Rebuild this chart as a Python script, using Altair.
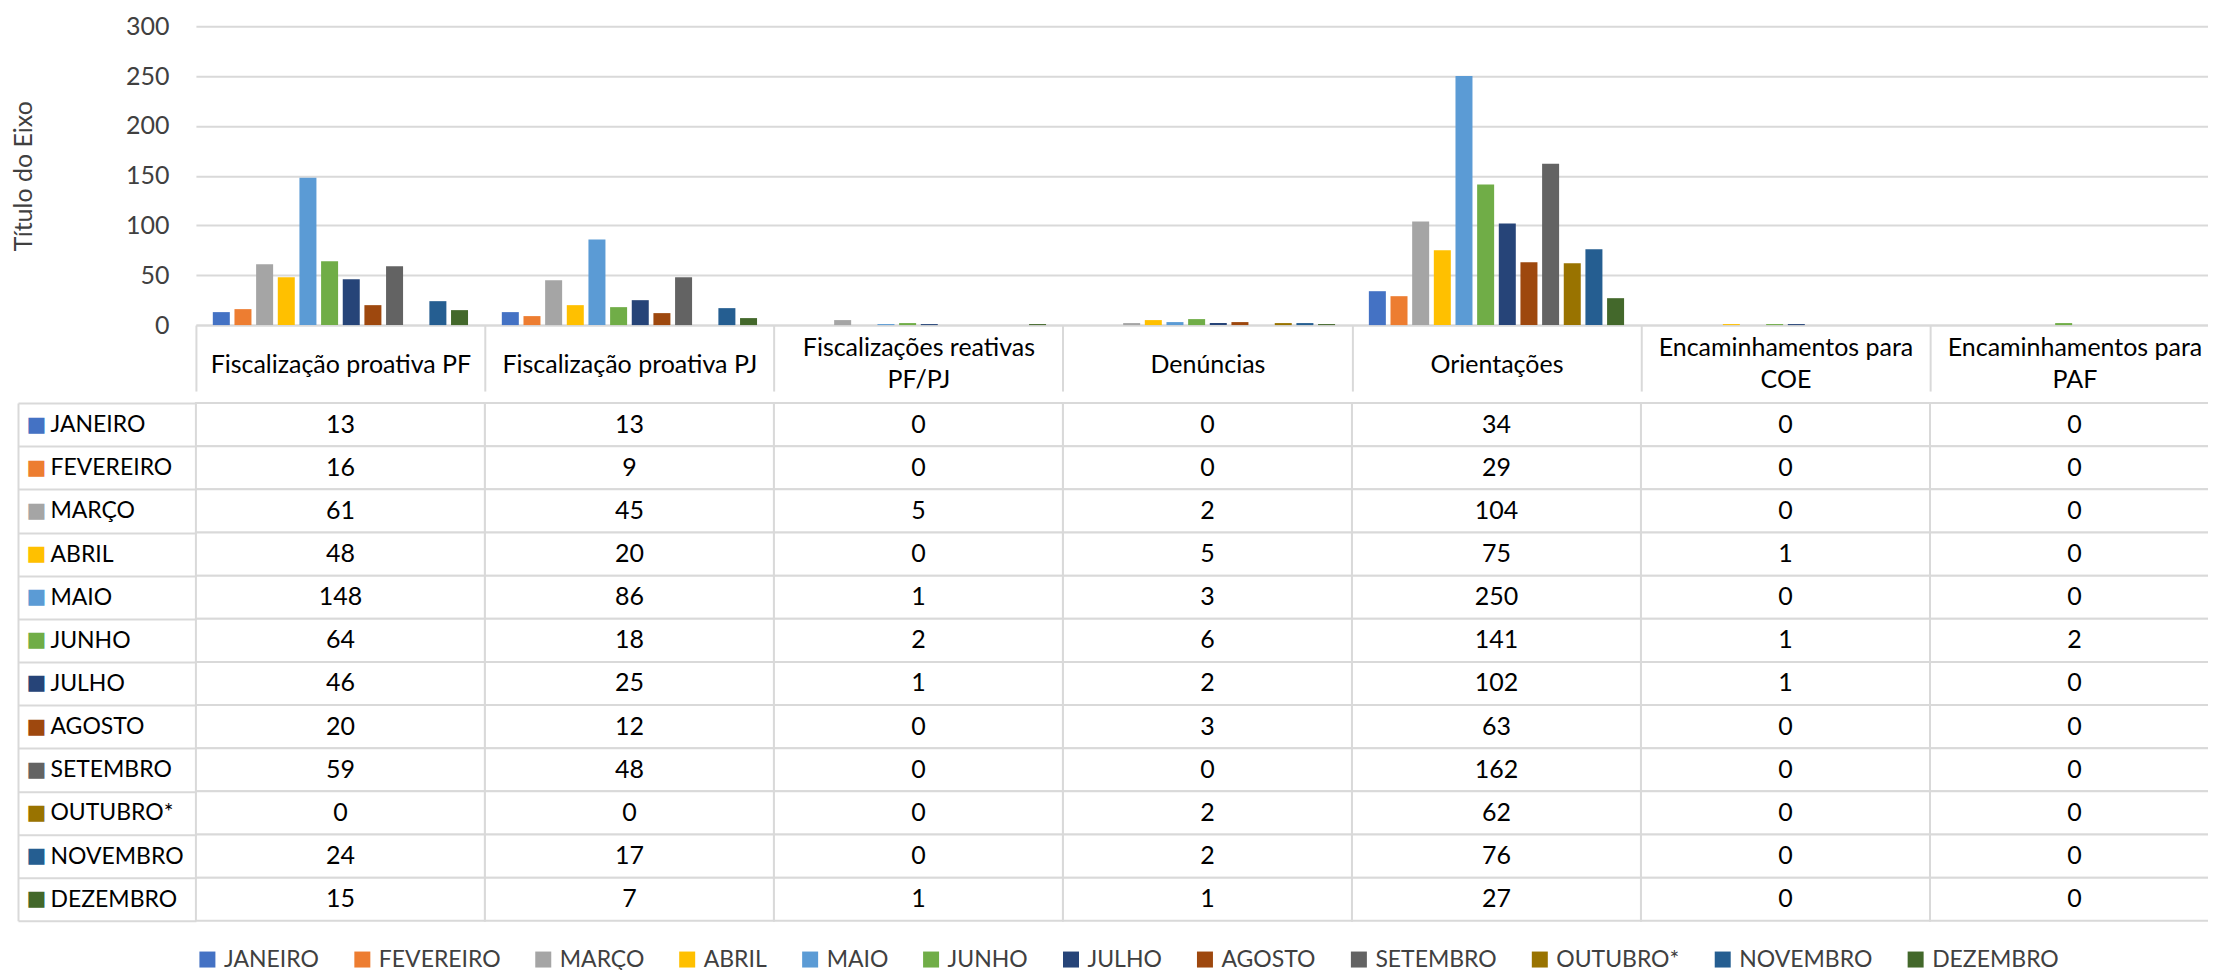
import altair as alt
import pandas as pd

FONT = "Lato"
GRID = "#d9d9d9"

categories = [
    "Fiscalização proativa PF",
    "Fiscalização proativa PJ",
    "Fiscalizações reativas PF/PJ",
    "Denúncias",
    "Orientações",
    "Encaminhamentos para COE",
    "Encaminhamentos para PAF",
]
header_lines = [
    ["Fiscalização proativa PF"],
    ["Fiscalização proativa PJ"],
    ["Fiscalizações reativas", "PF/PJ"],
    ["Denúncias"],
    ["Orientações"],
    ["Encaminhamentos para", "COE"],
    ["Encaminhamentos para", "PAF"],
]
months = ["JANEIRO", "FEVEREIRO", "MARÇO", "ABRIL", "MAIO", "JUNHO", "JULHO",
          "AGOSTO", "SETEMBRO", "OUTUBRO*", "NOVEMBRO", "DEZEMBRO"]
colors = ["#4472C4", "#ED7D31", "#A5A5A5", "#FFC000", "#5B9BD5", "#70AD47",
          "#264478", "#9E480E", "#636363", "#997300", "#255E91", "#43682B"]

janeiro = [13, 13, 0, 0, 34, 0, 0]
fevereiro = [16, 9, 0, 0, 29, 0, 0]
marco = [61, 45, 5, 2, 104, 0, 0]
abril = [48, 20, 0, 5, 75, 1, 0]
maio = [148, 86, 1, 3, 250, 0, 0]
junho = [64, 18, 2, 6, 141, 1, 2]
julho = [46, 25, 1, 2, 102, 1, 0]
agosto = [20, 12, 0, 3, 63, 0, 0]
setembro = [59, 48, 0, 0, 162, 0, 0]
outubro = [0, 0, 0, 2, 62, 0, 0]
novembro = [24, 17, 0, 2, 76, 0, 0]
dezembro = [15, 7, 1, 1, 27, 0, 0]
series = [janeiro, fevereiro, marco, abril, maio, junho, julho, agosto,
          setembro, outubro, novembro, dezembro]

rows = []
for m, vals in zip(months, series):
    for c, v in zip(categories, vals):
        rows.append({"month": m, "category": c, "value": v})
df = pd.DataFrame(rows)

# header label expression (multi-line headers)
parts = []
multi = []
for c, lines in zip(categories, header_lines):
    if len(lines) > 1:
        arr = "[" + ", ".join("'" + l + "'" for l in lines) + "]"
        parts.append(f"datum.value == '{c}' ? {arr}")
        multi.append(f"datum.value == '{c}'")
header_expr = " : ".join(parts) + " : datum.label"
multi_test = " || ".join(multi)

color_expr = " : ".join(f"datum.value == '{m}' ? '{c}'" for m, c in zip(months, colors)) + " : 'black'"

PLOT_W = 2024
PLOT_H = 299

x_top = alt.X(
    "category:N", sort=categories,
    scale=alt.Scale(paddingInner=0, paddingOuter=0),
    axis=alt.Axis(
        title=None, orient="bottom", labelAngle=0, grid=False,
        domainColor=GRID, domainWidth=2,
        ticks=True, tickBand="extent", tickSize=66, tickColor=GRID, tickWidth=2,
        labelExpr=header_expr, labelFont=FONT, labelFontSize=25, labelColor="#000000",
        labelPadding=-27,
        labelBaseline={"condition": {"test": multi_test, "value": "line-bottom"}, "value": "middle"},
        labelLineHeight=32, labelLimit=400,
    ),
)

top = alt.Chart(df).mark_bar().encode(
    x=x_top,
    xOffset=alt.XOffset("month:N", sort=months,
                        scale=alt.Scale(paddingInner=0.215, paddingOuter=0.78)),
    y=alt.Y(
        "value:Q", scale=alt.Scale(domain=[0, 300]),
        axis=alt.Axis(
            title="Título do Eixo", values=[0, 50, 100, 150, 200, 250, 300],
            grid=True, gridColor=GRID, gridWidth=2, domain=False, ticks=False,
            labelPadding=27, labelFont=FONT, labelFontSize=25, labelColor="#404040",
            titleX=-172, titleY=PLOT_H / 2, titleAngle=270, titleBaseline="middle",
            titleFont=FONT, titleFontSize=25, titleFontWeight="normal", titleColor="#404040",
        ),
    ),
    color=alt.Color(
        "month:N", sort=months, scale=alt.Scale(domain=months, range=colors),
        legend=alt.Legend(
            title=None, orient="bottom", direction="horizontal", symbolType="square",
            symbolSize=256, symbolStrokeWidth=0, labelFont=FONT, labelFontSize=23,
            labelColor="#404040", labelOffset=5, columnPadding=31, offset=26, labelLimit=400,
        ),
    ),
).properties(width=PLOT_W, height=PLOT_H)

x_tab = alt.X("category:N", sort=categories,
              scale=alt.Scale(paddingInner=0, paddingOuter=0), axis=None)

cells = alt.Chart(df).mark_rect(fill="white", stroke=GRID, strokeWidth=2).encode(
    x=x_tab,
    y=alt.Y(
        "month:N", sort=months, scale=alt.Scale(paddingInner=0, paddingOuter=0),
        axis=alt.Axis(
            title=None, orient="left", domain=False, grid=False,
            ticks=True, tickBand="extent", tickSize=178, tickColor=GRID, tickWidth=2,
            labelAlign="left", labelPadding=-32, labelFont=FONT, labelFontSize=23,
            labelColor="#000000",
        ),
    ),
)

texts = alt.Chart(df).mark_text(font=FONT, fontSize=25, color="#000000").encode(
    x=x_tab,
    y=alt.Y(
        "month:N", sort=months,
        axis=alt.Axis(
            title=None, orient="left", offset=178, domain=True, domainColor=GRID,
            domainWidth=2, ticks=False, grid=False,
            labelExpr="'■'",
            labelColor={"condition": {"test": "false", "value": "#000000"}, "expr": color_expr},
            labelAlign="left", labelPadding=-8, labelFont="DejaVu Sans", labelFontSize=21,
        ),
    ),
    text="value:Q",
)

table = alt.layer(cells, texts).resolve_axis(y="independent").properties(
    width=PLOT_W, height=518)

chart = alt.vconcat(top, table, spacing=0).properties(
    padding={"left": 4, "top": 6, "right": -13, "bottom": 0}
).configure_view(stroke=None)

chart.save("out.html", embed_options={"renderer": "svg", "actions": False})
